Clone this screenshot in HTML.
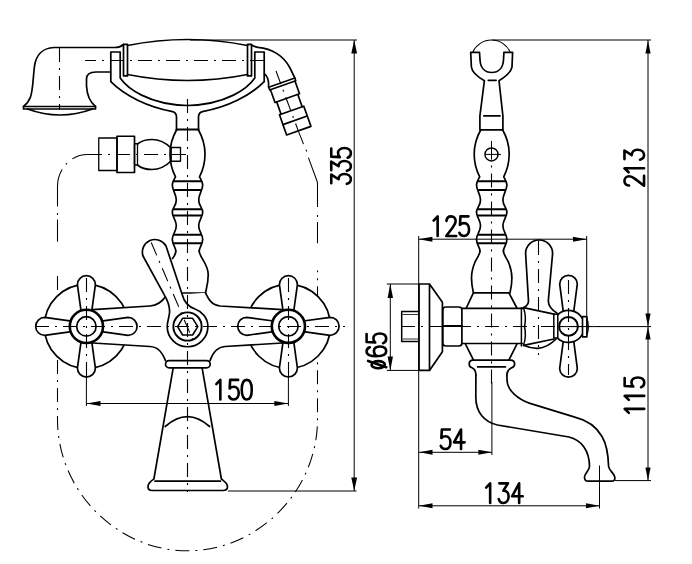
<!DOCTYPE html>
<html><head><meta charset="utf-8">
<style>
html,body{margin:0;padding:0;background:#fff;width:692px;height:564px;overflow:hidden}
svg{display:block}
text{font-family:"Liberation Sans",sans-serif}
</style></head><body>
<svg width="692" height="564" viewBox="0 0 692 564">


<!-- ========== FRONT VIEW ========== -->
<g fill="none" stroke="#000">
  <path stroke-width="1.05" stroke-linecap="butt" d="M99,154.5 H87.5 A30 32 0 0 0 72.3,158.9 M66.9,162.9 L65.9,164.6 M62.1,169.5 A30 32 0 0 0 57.5,186.5 V206.5 M57.5,213 V215 M57.5,219.5 V241.8 M298.5,131.4 L303.5,144.1 M305.9,149.6 L306.8,151.6 M308.4,157.6 L317,181 Q317.5,182.3 317.5,184 V207 M317.5,215 V217 M317.5,222 V243.2"/>
<path stroke-width="1.05" stroke-dasharray="14 6 2 6" d="M57.5,276 V419.5 C57.5,491 117,550.8 187.5,550.8 C258,550.8 317.5,491 317.5,419.5 V270.4"/>
</g>
<g fill="none" stroke="#000" stroke-width="1.7" stroke-linejoin="round" stroke-linecap="round">
  <!-- handset -->
  <path d="M123.5,44.5 C120.5,47 118.5,47.5 115,47.5 L54,47.5 C42,48 36,56 34.5,66 C33,78 33,90 30.5,97 C29,101 26,104.5 23.5,106.5"/>
  <rect x="23.5" y="106.5" width="72" height="2.5"/>
  <path d="M27.5,109 Q60,121 92.5,109"/>
  <path d="M95.5,106.5 C90,102 87,95 86.5,86 L86.5,79 C86.5,74.5 90,72 96,72 L110.5,72"/>
  <!-- cradle -->
  <path d="M176.5,130 L176.5,117 C176.5,113.5 174.5,111.8 171.5,111.3 C148,107 125,96 110.8,81.7 L110.8,52 L120.2,52 L120.2,78 C127,88 148,104.5 187.5,105.5 C227,104.5 248,88 254.8,78 L254.8,52 L264.2,52 L264.2,81.7 C250,96 227,107 203.5,111.3 C200.5,111.8 198.5,113.5 198.5,117 L198.5,130"/>
  <path d="M176.5,129.5 L198.5,129.5" stroke-width="2"/>
  <!-- grip -->
  <rect x="123.5" y="44.3" width="4" height="31.6"/>
  <rect x="247.5" y="44.3" width="4" height="31.6"/>
  <path d="M127.5,45.5 Q187.5,33.5 247.5,45.5"/>
  <path d="M127.5,74.5 Q187.5,86.5 247.5,74.5"/>
  <!-- hose connector -->
  <path d="M251.5,45 C254,46.5 256,47 258,47.3 C272,48.5 284,56 290,68 L294.9,78.2"/>
  <path d="M264.5,74 C267.5,76 269,80 268.6,87"/>
  <g transform="translate(281.75,82.6) rotate(-19.5)">
    <rect x="-13.9" y="0" width="27.8" height="2.9" stroke-width="1.5"/>
    <path d="M-13,2.9 V16.5 H13 V2.9 M-11.2,16.5 V29.6 M11.2,16.5 V29.6"/>
    <rect x="-12.9" y="29.6" width="25.8" height="21.4"/>
    <path d="M-12.9,40 H12.9"/>
  </g>

  <!-- holder -->
  <rect x="98.75" y="138" width="18.25" height="32.5" stroke-width="1.3"/>
  <rect x="117" y="136.25" width="17.5" height="36.25"/>
  <rect x="134.5" y="143.75" width="3" height="21.25" stroke-width="1.3"/>
  <path d="M137.5,144 C141,141 146,139.5 152,139.5 C162,139.5 168,145 171,148 M137.5,165 C141,168 146,169.5 152,169.5 C162,169.5 168,164 171,161"/>
  <rect x="171.25" y="147.5" width="9.25" height="13.75" stroke-width="1.3"/>

  <!-- stem -->
  <path d="M176.5,130 C172,138 170,146 170,154 C170,163 172.5,171 175.5,176.8 C174,179.5 172.3,182 172.3,185 C172.3,190 176.3,194 176.3,200 C176.3,206 172.3,207.5 172.3,212.2 C172.3,217 176.3,220 176.3,225.7 C176.3,232 172.3,234 172.3,239.3 C172.3,245 175.8,247 175.8,251.3"/>
  <g transform="translate(375,0) scale(-1,1)"><path d="M176.5,130 C172,138 170,146 170,154 C170,163 172.5,171 175.5,176.8 C174,179.5 172.3,182 172.3,185 C172.3,190 176.3,194 176.3,200 C176.3,206 172.3,207.5 172.3,212.2 C172.3,217 176.3,220 176.3,225.7 C176.3,232 172.3,234 172.3,239.3 C172.3,245 175.8,247 175.8,251.3"/></g>
  <path d="M174,181.3 H201 M174,190 H201 M174,209.2 H201 M174,215.6 H201 M174,234.8 H201 M174,243.3 H201" stroke-width="2"/>
  <path d="M199.2,251.3 C199.5,257 208,264 208.2,274 C208.4,282 206.5,288 205.5,293 M175.8,251.3 C175.8,253.5 174.5,256 172.5,258.5"/>
  <path d="M182,293 H205.5"/>

  <!-- rosettes -->
  <circle cx="86.4" cy="326.4" r="42" fill="#fff"/>
  <circle cx="288.4" cy="326.3" r="42" fill="#fff"/>
  <!-- body bar -->
  <path fill="#fff" stroke="none" d="M86,309.9 L150,306 C157,305.5 162,302 166,296 L205.4,292.8 C208,298 211,305 220,306 L290,310.2 L290,342.5 L225,346.5 C217,347 213,352 210,360.6 L165.5,360.6 C162,352 158,347 150,346.5 L86,342.5 Z"/>
  <path d="M92.6,309.6 L150,306 C157,305.5 162,302 166,296"/>
  <path d="M205.4,292.8 C208,298 211,305 220,306 L282.4,309.6"/>
  <path d="M92.6,343 L150,346.5 C158,347 162,352 165.5,360.6"/>
  <path d="M282.4,343 L225,346.5 C217,347 213,352 210,360.6"/>

  <!-- lever -->
  <path fill="#fff" d="M166,246 L182,294 C184,302 189,307 195,309 C202,311.5 207.9,318 207.9,326.4 A20.35 20.35 0 1 1 167.2,326.4 C167.2,322 169,318 169.5,313 C170,308 168,301 164,294.4 L143,256 A12.6 12.6 0 0 1 166,246 Z"/>
  <circle cx="187.5" cy="326.5" r="14.15" stroke-width="1.9"/>
  <path d="M177.6,326.6 L182.6,318.3 H192.6 L197.8,326.6 L192.6,335 H182.6 Z" stroke-width="1.6"/>

  <!-- handles -->
  <g transform="translate(86.4,326.4)"><g>
    <path fill="#fff" d="M-5.3,-15 L-9,-41.7 A9 9 0 0 1 9,-41.7 L5.3,-15 Z"/>
    <g transform="rotate(90)"><path fill="#fff" d="M-5.3,-15 L-9,-41.7 A9 9 0 0 1 9,-41.7 L5.3,-15 Z"/></g>
    <g transform="rotate(180)"><path fill="#fff" d="M-5.3,-15 L-9,-41.7 A9 9 0 0 1 9,-41.7 L5.3,-15 Z"/></g>
    <g transform="rotate(270)"><path fill="#fff" d="M-5.3,-15 L-9,-41.7 A9 9 0 0 1 9,-41.7 L5.3,-15 Z"/></g>
    <circle cx="0" cy="0" r="16.6" fill="#fff" stroke-width="2.6"/>
    <circle cx="0" cy="0" r="9.7" fill="none"/>
  </g></g>
  <g transform="translate(288.4,326.3)"><g>
    <path fill="#fff" d="M-5.3,-15 L-9,-41.7 A9 9 0 0 1 9,-41.7 L5.3,-15 Z"/>
    <g transform="rotate(90)"><path fill="#fff" d="M-5.3,-15 L-9,-41.7 A9 9 0 0 1 9,-41.7 L5.3,-15 Z"/></g>
    <g transform="rotate(180)"><path fill="#fff" d="M-5.3,-15 L-9,-41.7 A9 9 0 0 1 9,-41.7 L5.3,-15 Z"/></g>
    <g transform="rotate(270)"><path fill="#fff" d="M-5.3,-15 L-9,-41.7 A9 9 0 0 1 9,-41.7 L5.3,-15 Z"/></g>
    <circle cx="0" cy="0" r="16.6" fill="#fff" stroke-width="2.6"/>
    <circle cx="0" cy="0" r="9.7" fill="none"/>
  </g></g>

  <!-- collar + spout -->
  <rect x="165.5" y="360.6" width="44.7" height="7.2" rx="3.6"/>
  <path d="M173.2,367.8 L153.9,479 C151,481 148,483 148,486.5 C148,489 149.5,490.5 152,490.5 L223,490.5 C225.5,490.5 227.5,489 227.5,486.5 C227.5,483 224,481 221.4,479 L202.1,367.8"/>
  <path d="M155,481.2 H220.5"/>
  <path d="M165.2,426.5 Q187.4,406.7 209.6,426.5"/>
</g>

<!-- thin lines front -->
<g fill="none" stroke="#000" stroke-width="1.1">
  <g stroke-dasharray="14 6 2 6">
    <path d="M85,60.5 H266" stroke-dashoffset="3"/>
    <path d="M59.5,48 V110"/>
    <path d="M187.5,99 V492"/>
    <path d="M88,154.5 H186"/>
    <path d="M35,326.5 H345"/>
    <path d="M86.5,278 V376"/>
    <path d="M288.5,278 V376"/>
    <path d="M151.25,242.5 L195,345"/>
    <path d="M276,71 L298.5,131.4"/>
  </g>
  
  <!-- dim 150 -->
  <path d="M86.4,376 V406 M288.4,376 V406 M86.4,403.5 H288.4" stroke-width="1"/>
  <!-- dim 335 -->
  <path d="M190,40 H357 M354.2,40 V491 M228,491 H356.5" stroke-width="1"/>
</g>
<g fill="#000" stroke="none">
  <path d="M86.4,403.5 L100.5,400.9 L100.5,406.1 Z"/>
  <path d="M288.4,403.5 L274.3,400.9 L274.3,406.1 Z"/>
  <path d="M354.2,40 L351.3,53.4 L357.1,53.4 Z"/>
  <path d="M354.2,491 L351.3,477.5 L357.1,477.5 Z"/>
</g>
<g fill="none" stroke="#000" stroke-width="2.6" stroke-linecap="round" stroke-linejoin="round">
  <g transform="translate(215.75,379.9)"><g transform="translate(0,0)"><path d="M0.6,4.2 L4.6,0 V19.6"/></g><g transform="translate(13,0)"><path d="M9.4,0 H1.4 L0.9,8.6 C2.1,7.3 3.5,6.8 5,6.8 C8,6.8 10,9.3 10,13.2 C10,17.1 7.9,19.6 4.9,19.6 C2.7,19.6 1,18.4 0.3,16.4"/></g><g transform="translate(26,0)"><path d="M5,0 C8,0 10,3.6 10,9.8 C10,16 8,19.6 5,19.6 C2,19.6 0,16 0,9.8 C0,3.6 2,0 5,0 Z"/></g></g>
  <g transform="translate(331.25,184.05) rotate(-90)"><g transform="translate(0,0)"><path d="M0.8,0 H9.4 L4.8,7.3 C8,7.3 10.1,9.6 10.1,13 C10.1,17 7.8,19.6 4.8,19.6 C2.5,19.6 0.8,18.3 0.2,15.6"/></g><g transform="translate(13,0)"><path d="M0.8,0 H9.4 L4.8,7.3 C8,7.3 10.1,9.6 10.1,13 C10.1,17 7.8,19.6 4.8,19.6 C2.5,19.6 0.8,18.3 0.2,15.6"/></g><g transform="translate(26,0)"><path d="M9.4,0 H1.4 L0.9,8.6 C2.1,7.3 3.5,6.8 5,6.8 C8,6.8 10,9.3 10,13.2 C10,17.1 7.9,19.6 4.9,19.6 C2.7,19.6 1,18.4 0.3,16.4"/></g></g>
</g>

<!-- ========== SIDE VIEW ========== -->
<g fill="none" stroke="#000" stroke-width="1.7" stroke-linejoin="round" stroke-linecap="round">
  <path d="M472.7,52.4 A20.45 20.45 0 0 1 510.3,52.4" stroke-width="1.1"/>
  <path d="M470.7,52.4 H479.5 L480,60 C480.5,68 485,72.5 491.7,72.5 C498.5,72.5 503,68 503.5,60 L503.9,52.4 H512.6 L512,67 C511,73 505,77 499,80.7 L502.9,115.8 V129.8 H479.9 V115.8 L484.4,80.7 C478,77 472,73 471.4,67 Z"/>
  <path d="M488.3,80.3 H496.1 M483.8,115.8 H500"/>
  <g transform="translate(304.2,0)"><path d="M176.5,130 C172,138 170,146 170,154 C170,163 172.5,171 175.5,176.8 C174,179.5 172.3,182 172.3,185 C172.3,190 176.3,194 176.3,200 C176.3,206 172.3,207.5 172.3,212.2 C172.3,217 176.3,220 176.3,225.7 C176.3,232 172.3,234 172.3,239.3 C172.3,245 175.8,247 175.8,251.3"/></g>
  <g transform="translate(679.2,0) scale(-1,1)"><path d="M176.5,130 C172,138 170,146 170,154 C170,163 172.5,171 175.5,176.8 C174,179.5 172.3,182 172.3,185 C172.3,190 176.3,194 176.3,200 C176.3,206 172.3,207.5 172.3,212.2 C172.3,217 176.3,220 176.3,225.7 C176.3,232 172.3,234 172.3,239.3 C172.3,245 175.8,247 175.8,251.3"/></g>
  <path d="M478.2,181.3 H505.2 M478.2,190 H505.2 M478.2,209.2 H505.2 M478.2,215.6 H505.2 M478.2,234.8 H505.2 M478.2,243.3 H505.2" stroke-width="2"/>
  <path d="M480,251.3 C480,254 477,258 475,262 C472.5,268 471.5,273 471.5,278 C471.5,284 472.5,289 473.4,292.8 M503.4,251.3 C503.4,254 506.4,258 508.4,262 C510.9,268 511.9,273 511.9,278 C511.9,284 510.9,289 510,292.8"/>
  <path d="M473.4,292.8 H508.9 L516.9,308 M473.4,292.8 L466.3,308"/>
  <path d="M461.9,308.4 H522.2 M461.9,343.5 H522.2"/>
  <path d="M465.5,344.2 L473.4,359.8 M516.9,344.2 L509,359.8"/>
  <rect x="442.8" y="307" width="19.1" height="39" rx="3"/>
  <path d="M442.8,326 H461.9" stroke-width="2"/>
  <path d="M475.9,375 C475.9,370 474,368.5 471.5,367.5 C469.8,366.8 469.2,365.5 469.2,363.9 C469.2,361.5 470.5,360.2 473,360.2 L510.5,360.2 C513,360.2 514.6,361.5 514.6,363.9 C514.6,365.5 514,366.8 512,367.6 C509,369 506.9,371 506.9,375"/>
  <path d="M477.6,366.9 H505.4"/>
  <!-- flange -->
  <path d="M419,284 H429.5 L442.4,302.2 V351.8 L429.5,370.4 H419 Z M429.5,284 V370.4"/>
  <path d="M419,311.6 H401.7 V341.4 H419" stroke-width="1.5"/>
  <path d="M403,314.5 H418 M403,339 H418" stroke-width="0.8"/>
  <!-- spout -->
  <path d="M475.9,375 L475.8,396.9 C475.8,412 484,422 497.5,425 L569,437 C581,440 589.5,450 589.5,466.6 C589.5,470 585,473 584.6,476.5 C584.2,479.5 585.5,481.2 588,481.2 L611.5,481.2 C614,481.2 615.5,479.5 614.6,476.5 C613.5,473 609,470 608.6,466.5 C608.3,455 607,445 602,436.5 C598,429.5 590,421 575.6,417.4 L530,403.4 C519,399.5 507,391 507,379.5 L506.9,375"/>
  <!-- lever side -->
  <path fill="#fff" d="M523.5,307.7 C526,306.5 528.5,305 528.5,301 L525.6,253.5 A13.5 13.5 0 0 1 552.6,253.5 L548.3,301 C548.5,306 552,310 556.8,313"/>
  <path d="M524,345.5 C530,348 534,348.5 538,348.3 C545,348 551,344 556.1,339"/>
  <!-- cartridge -->
  <path fill="#fff" stroke="none" d="M523.5,307.7 L554,314.1 L554,339 L523.5,345.3 Z"/>
  <path d="M523.5,307.7 L554,314.1 M554,339 L523.5,345.3"/>
  <path d="M521.4,307.7 V346 M523.5,307.7 C526,315 526,320 524.5,326.5 C526,333 526,338 523.5,345.3" stroke-width="1.5"/>
  <g transform="translate(568.5,326.4)">
    <path fill="#fff" d="M-5,-13 L-8.8,-42.3 A8.8 8.8 0 0 1 8.8,-42.3 L5,-13 Z"/>
    <path fill="#fff" d="M-5,13 L-8.8,42 A8.8 8.8 0 0 0 8.8,42 L5,13 Z"/>
    <circle r="16" fill="#fff" stroke="none"/>
    <path d="M-10.7,-11.9 A16 16 0 0 1 14,-7.75 M14,7.75 A16 16 0 0 1 -10.7,11.9"/>
    <circle r="9.4" stroke-width="2"/>
  </g>
  <rect x="553.8" y="314.2" width="4" height="23.9" fill="#fff" stroke-width="1.5"/>
  <rect x="582.5" y="316.6" width="4.4" height="20.3" fill="#fff" stroke-width="1.6"/>
  <path d="M586.9,318.5 Q589.6,326.5 586.9,334.9" stroke-width="1.4"/>
</g>
<g fill="none" stroke="#000" stroke-width="1.1">
  <g stroke-dasharray="14 6 2 6">
    <path d="M491.5,165.5 V384" stroke-dashoffset="20"/>
    <path d="M401,326.5 H600"/>
    <path d="M538.5,241 V355"/>
    <path d="M568.5,280 V375"/>
  </g>
  <circle cx="491.5" cy="154.4" r="6.5" stroke-width="1.5"/>
  <path d="M485.6,154.4 H501 M491.5,141 V159.7" stroke-width="1"/>
</g>
<g fill="none" stroke="#000" stroke-width="1">
  <!-- dims -->
  <path d="M492.2,40 H651 M648,40 V480.6 M560,326.6 H651 M615,480.6 H651"/>
  <path d="M418.7,239.2 H586.7 M418.7,236 V508.5 M586.7,236 V326.6"/>
  <path d="M386.8,284 H419 M386.8,370.4 H419 M390.3,284 V370.4"/>
  <path d="M419,452.3 H491.9 M491.9,382 V455"/>
  <path d="M419,505.8 H599.5 M599.5,465.5 V508.5"/>
</g>
<g fill="#000" stroke="none">
  <path d="M418.7,239.2 L432.4,236.7 L432.4,241.7 Z"/>
  <path d="M586.7,239.2 L573,236.7 L573,241.7 Z"/>
  <path d="M390.3,284 L387.6,298 L393,298 Z"/>
  <path d="M390.3,370.4 L387.6,356.4 L393,356.4 Z"/>
  <path d="M648,40.5 L645.4,53.5 L650.6,53.5 Z"/>
  <path d="M648,326.6 L645.4,313.6 L650.6,313.6 Z"/>
  <path d="M648,326.6 L645.4,339.6 L650.6,339.6 Z"/>
  <path d="M648,480.6 L645.4,467.6 L650.6,467.6 Z"/>
  <path d="M419,452.3 L432.5,449.8 L432.5,454.8 Z"/>
  <path d="M491.9,452.3 L478.4,449.8 L478.4,454.8 Z"/>
  <path d="M419,505.8 L432.5,503.3 L432.5,508.3 Z"/>
  <path d="M599.5,505.8 L586,503.3 L586,508.3 Z"/>
</g>
<g fill="none" stroke="#000" stroke-width="2.6" stroke-linecap="round" stroke-linejoin="round">
  <g transform="translate(433.05,216.35)"><g transform="translate(0,0)"><path d="M0.6,4.2 L4.6,0 V19.6"/></g><g transform="translate(13,0)"><path d="M0.4,4.6 C0.7,1.7 2.6,0 5,0 C7.7,0 9.6,1.9 9.6,4.7 C9.6,6.9 8.6,8.5 7,10.6 L0.2,19.6 H10.2"/></g><g transform="translate(26,0)"><path d="M9.4,0 H1.4 L0.9,8.6 C2.1,7.3 3.5,6.8 5,6.8 C8,6.8 10,9.3 10,13.2 C10,17.1 7.9,19.6 4.9,19.6 C2.7,19.6 1,18.4 0.3,16.4"/></g></g>
  <g transform="translate(440.45,429.45)"><g transform="translate(0,0)"><path d="M9.4,0 H1.4 L0.9,8.6 C2.1,7.3 3.5,6.8 5,6.8 C8,6.8 10,9.3 10,13.2 C10,17.1 7.9,19.6 4.9,19.6 C2.7,19.6 1,18.4 0.3,16.4"/></g><g transform="translate(13,0)"><path d="M7.6,19.6 V0 L0.6,12.9 H11.2"/></g></g>
  <g transform="translate(485.55,483.35)"><g transform="translate(0,0)"><path d="M0.6,4.2 L4.6,0 V19.6"/></g><g transform="translate(13,0)"><path d="M0.8,0 H9.4 L4.8,7.3 C8,7.3 10.1,9.6 10.1,13 C10.1,17 7.8,19.6 4.8,19.6 C2.5,19.6 0.8,18.3 0.2,15.6"/></g><g transform="translate(26,0)"><path d="M7.6,19.6 V0 L0.6,12.9 H11.2"/></g></g>
  <g transform="translate(624.45,185.9) rotate(-90)"><g transform="translate(0,0)"><path d="M0.4,4.6 C0.7,1.7 2.6,0 5,0 C7.7,0 9.6,1.9 9.6,4.7 C9.6,6.9 8.6,8.5 7,10.6 L0.2,19.6 H10.2"/></g><g transform="translate(13,0)"><path d="M0.6,4.2 L4.6,0 V19.6"/></g><g transform="translate(26,0)"><path d="M0.8,0 H9.4 L4.8,7.3 C8,7.3 10.1,9.6 10.1,13 C10.1,17 7.8,19.6 4.8,19.6 C2.5,19.6 0.8,18.3 0.2,15.6"/></g></g>
  <g transform="translate(624.65,413.45) rotate(-90)"><g transform="translate(0,0)"><path d="M0.6,4.2 L4.6,0 V19.6"/></g><g transform="translate(13,0)"><path d="M0.6,4.2 L4.6,0 V19.6"/></g><g transform="translate(26,0)"><path d="M9.4,0 H1.4 L0.9,8.6 C2.1,7.3 3.5,6.8 5,6.8 C8,6.8 10,9.3 10,13.2 C10,17.1 7.9,19.6 4.9,19.6 C2.7,19.6 1,18.4 0.3,16.4"/></g></g>
  <g transform="translate(366.6,369.45) rotate(-90)"><g transform="translate(0,0)"><path d="M4.75,4.95 C6.7,4.95 8.3,7.9 8.3,11.6 C8.3,15.3 6.7,18.25 4.75,18.25 C2.8,18.25 1.2,15.3 1.2,11.6 C1.2,7.9 2.8,4.95 4.75,4.95 Z M8.5,1.5 L2.3,19.7"/></g><g transform="translate(13,0)"><path d="M9.2,3.2 C8.5,1.1 7,0 5,0 C1.9,0 0.2,3.6 0.2,9.8 C0.2,16.2 2,19.6 5.1,19.6 C8.1,19.6 10,17.2 10,13.3 C10,9.5 8,7.3 5.2,7.3 C2.9,7.3 1,8.8 0.3,11"/></g><g transform="translate(26,0)"><path d="M9.4,0 H1.4 L0.9,8.6 C2.1,7.3 3.5,6.8 5,6.8 C8,6.8 10,9.3 10,13.2 C10,17.1 7.9,19.6 4.9,19.6 C2.7,19.6 1,18.4 0.3,16.4"/></g></g>
</g>
</svg>
</body></html>
